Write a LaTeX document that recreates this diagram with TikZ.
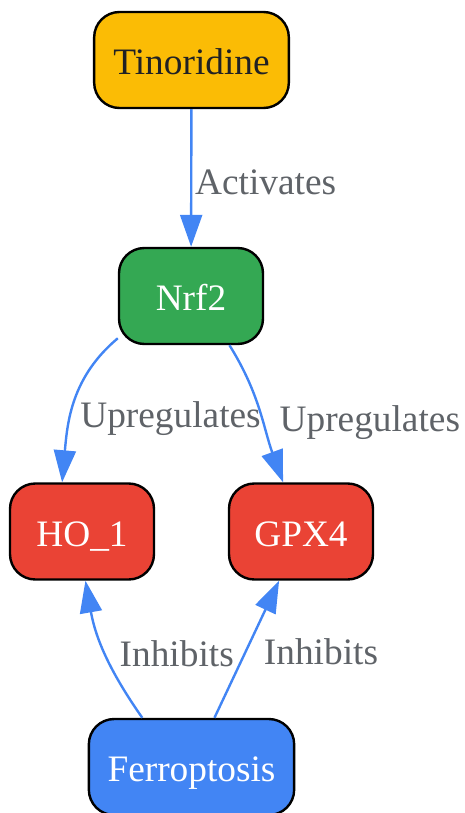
\documentclass[tikz,border=0pt]{standalone}
\usepackage{fontspec}
\setmainfont{Liberation Serif}
\usetikzlibrary{arrows.meta}
\definecolor{gyellow}{HTML}{FBBC05}
\definecolor{ggreen}{HTML}{34A853}
\definecolor{gred}{HTML}{EA4335}
\definecolor{gblue}{HTML}{4285F4}
\definecolor{ggray}{HTML}{5F6368}
\definecolor{gdark}{HTML}{202124}
\tikzset{
  >={Triangle[length=24pt,width=16.5pt]},
  box/.style = {draw, line width=1.8pt, rounded corners=19pt, fill = #1,
                minimum height=72pt, minimum width=108pt, text=white,
                text height=25pt, text depth=3.2pt,
                font=\fontsize{28}{33}\selectfont},
  box/.default = gblue,
  link/.style = {draw=gblue, line width=1.8pt, ->},
  tag/.style = {text=ggray, inner sep=2pt, font=\fontsize{28}{33}\selectfont},
}
\begin{document}
\begin{tikzpicture}[x=0.75pt,y=-0.75pt]
\useasboundingbox (0,0) rectangle (464,813);
\node[box=gyellow,text=gdark,minimum width=146pt] (T) at (191.5,60) {Tinoridine};
\node[box=ggreen] (N) at (191,296) {Nrf2};
\node[box=gred] (H) at (82,531.5) {HO\_1};
\node[box=gred] (G) at (301,531.5) {GPX4};
\node[box=gblue,minimum width=154pt] (F) at (191.5,767) {Ferroptosis};
\path[link] (T) -- node[tag,anchor=west,yshift=-3pt] {Activates} (N);
\path[link] (N.-150) to[out=-140,in=85]
      node[tag,pos=0.55,anchor=west,xshift=3pt,yshift=-7pt] {Upregulates} (H.112);
\path[link] (N.-52) to[out=-58,in=110]
      node[tag,pos=0.55,anchor=west,xshift=10pt,yshift=-3pt] {Upregulates} (G.110);
\path[link] (F.135) to[out=125,in=-80]
      node[tag,pos=0.5,anchor=west,xshift=8pt,yshift=-1pt] {Inhibits} (H.-86);
\path[link] (F.65) --
      node[tag,pos=0.5,anchor=west,xshift=10pt,yshift=-2pt] {Inhibits} (G.-114);
\end{tikzpicture}
\end{document}
